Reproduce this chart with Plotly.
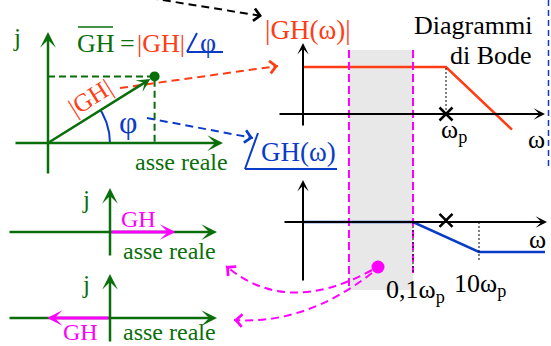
import numpy as np
import plotly.graph_objects as go

W, H = 551, 346
SERIF = "Liberation Serif"
GREEN = "#0a6e0a"
RED = "#ff3c14"
BLUE = "#0a3cc8"
MAGENTA = "#ff00ff"
BLACK = "#000000"
BAND = "#e8e8e8"

# Phasor GH = |GH| ∠φ
gh_mag = 1.0
gh_phase_deg = 32.0
# low-frequency phasors lying on the real axis (phase 0 and 180°)
gh_real_mag = [0.52, 0.50]
gh_real_phase = [0.0, 180.0]

# Asymptotic Bode diagrams, abscissa = log10(ω/ω_p)
mag_logw = [-4.33, 0.0, 2.0]
mag_db = [30.0, 30.0, -10.0]
phase_logw = [-4.33, -1.0, 1.0, 3.0]
phase_deg = [0.0, 0.0, -90.0, -90.0]
pole_logw = [0.0]
band_logw = [-2.94, -1.0]      # shaded low-frequency range
decade_logw = [-1.0, 1.0]      # 0,1ω_p and 10ω_p

# Each panel gets its own overlaid axis pair: (origin px x, origin px y, px per unit x, px per unit y)
PH = 125.7
frames = {
    "2": (48, 143, PH, PH),       # phasor GH
    "3": (110, 232, PH, PH),      # phasor on positive real axis
    "4": (110, 318, PH, PH),      # phasor on negative real axis
    "5": (446, 114, 33.0, 1.567), # |GH(ω)| in dB
    "6": (446, 222, 33.0, 1 / 3), # ∠GH(ω) in degrees
}

fig = go.Figure()
layout = dict(
    width=W, height=H, margin=dict(l=0, r=0, t=0, b=0),
    paper_bgcolor="white", plot_bgcolor="white", showlegend=False,
    xaxis=dict(range=[0, W], visible=False, fixedrange=True),
    yaxis=dict(range=[H, 0], visible=False, fixedrange=True),
)
for k, (x0, y0, sx, sy) in frames.items():
    layout[f"xaxis{k}"] = dict(range=[-x0 / sx, (W - x0) / sx], overlaying="x",
                               anchor=f"y{k}", visible=False, fixedrange=True)
    layout[f"yaxis{k}"] = dict(range=[-(H - y0) / sy, y0 / sy], overlaying="y",
                               anchor=f"x{k}", visible=False, fixedrange=True)
fig.update_layout(**layout)


def arrow(x0, y0, x1, y1, color, width=2.5, head=3, size=1.0, ref="", standoff=0):
    fig.add_annotation(x=x1, y=y1, ax=x0, ay=y0, xref="x" + ref, yref="y" + ref,
                       axref="x" + ref, ayref="y" + ref, text="", showarrow=True,
                       arrowhead=head, arrowsize=size, arrowwidth=width,
                       arrowcolor=color, standoff=standoff)


def seg(x0, y0, x1, y1, color, width=2, dash="solid", xref="x", yref="y", layer="above"):
    fig.add_shape(type="line", x0=x0, y0=y0, x1=x1, y1=y1, xref=xref, yref=yref,
                  line=dict(color=color, width=width, dash=dash), layer=layer)


def label(x, y, text, color, size=26, angle=0, xanchor="center", yanchor="middle", pad=1):
    fig.add_annotation(x=x, y=y, xref="x", yref="y", text=text, showarrow=False,
                       font=dict(family=SERIF, size=size, color=color),
                       textangle=angle, xanchor=xanchor, yanchor=yanchor, borderpad=pad)


def dashed_arrow(pts, color, dash="8px,5px", width=2):
    """Dashed straight connector ending in an open arrowhead."""
    (x0, y0), (x1, y1) = pts
    seg(x0, y0, x1, y1, color, width, dash)
    d = np.hypot(x1 - x0, y1 - y0)
    tx, ty = x1 - (x1 - x0) / d * 6, y1 - (y1 - y0) / d * 6
    arrow(tx, ty, x1, y1, color, width=width, head=4, size=1.2)


def dashed_curve(p0, c, p2, color, dash="8px,5px", width=2):
    """Dashed quadratic connector ending in an open arrowhead."""
    fig.add_shape(type="path", xref="x", yref="y",
                  path=f"M {p0[0]},{p0[1]} Q {c[0]},{c[1]} {p2[0]},{p2[1]}",
                  line=dict(color=color, width=width, dash=dash))
    vx, vy = c[0] - p2[0], c[1] - p2[1]
    d = np.hypot(vx, vy)
    arrow(p2[0] + vx / d * 6, p2[1] + vy / d * 6, p2[0], p2[1], color,
          width=width, head=4, size=1.2)


# ---------------- shaded low-frequency band ----------------
fig.add_shape(type="rect", xref="x5", yref="y", x0=band_logw[0], x1=band_logw[1],
              y0=50, y1=290, fillcolor=BAND, line=dict(width=0), layer="below")
seg(band_logw[0], 50, band_logw[0], 289, MAGENTA, 2, "8px,4px", xref="x5")
seg(band_logw[1], 50, band_logw[1], 273, MAGENTA, 2, "8px,4px", xref="x5")

# ---------------- phasor GH ----------------
phi = np.radians(gh_phase_deg)
gx, gy = gh_mag * np.cos(phi), gh_mag * np.sin(phi)
fig.add_trace(go.Scatter(x=[0, gx, gx], y=[gy, gy, 0], xaxis="x2", yaxis="y2",
                         mode="lines", line=dict(color=GREEN, width=2, dash="7px,4px"),
                         hoverinfo="skip"))
t = np.linspace(0, phi, 40)
fig.add_trace(go.Scatter(x=0.493 * np.cos(t), y=0.493 * np.sin(t), xaxis="x2", yaxis="y2",
                         mode="lines", line=dict(color=BLUE, width=2), hoverinfo="skip"))
arrow(48, 175, 48, 32, GREEN, 2.5, 3, 1.05)
arrow(14, 143, 223, 143, GREEN, 2.5, 3, 1.05)
arrow(0, 0, gx, gy, GREEN, 2.5, 3, 0.9, ref="2", standoff=5)
fig.add_trace(go.Scatter(x=[gx], y=[gy], xaxis="x2", yaxis="y2", mode="markers",
                         marker=dict(color=GREEN, size=10), hoverinfo="skip"))

label(17, 37, "j", GREEN, size=25)
label(95.5, 43, "GH", GREEN)
seg(78, 27, 113, 27, GREEN, 1.5)
label(127, 43, "=", GREEN)
label(161, 43, "|GH|", RED)
seg(187, 52, 197, 33, BLUE, 2)
seg(187, 52, 223, 52, BLUE, 2)
label(208, 42, "φ", BLUE, size=28)
label(90, 97, "|GH|", RED, size=25, angle=-32)
label(128, 122, "φ", BLUE, size=32)
label(181, 162, "asse reale", GREEN, size=24)

# ---------------- phasors on the real axis ----------------
for k, (oy, m, p) in zip(["3", "4"], zip([232, 318], gh_real_mag, gh_real_phase)):
    arrow(110, oy + 25, 110, oy - 44, GREEN, 2.5, 3, 1.05)
    arrow(8, oy, 217, oy, GREEN, 2.5, 3, 1.05)
    a = np.radians(p)
    arrow(0, 0, m * np.cos(a), m * np.sin(a), MAGENTA, 3, 3, 0.85, ref=k)
label(86, 199, "j", GREEN, size=25)
label(138, 219, "GH", MAGENTA, size=24)
label(169, 251, "asse reale", GREEN, size=24)
label(86, 284, "j", GREEN, size=25)
label(80, 346, "GH", MAGENTA, size=24, yanchor="bottom", pad=0)
label(169, 346, "asse reale", GREEN, size=24, yanchor="bottom", pad=0)

# ---------------- Bode magnitude ----------------
arrow(303, 127, 303, 43, BLACK, 2, 3, 0.95)
arrow(278, 114, 545, 114, BLACK, 2, 3, 0.95)
seg(pole_logw[0], 0, pole_logw[0], mag_db[0], BLACK, 1, "2px,2px", xref="x5", yref="y5")
fig.add_trace(go.Scatter(x=mag_logw, y=mag_db, xaxis="x5", yaxis="y5", mode="lines",
                         line=dict(color=RED, width=2.5), hoverinfo="skip"))
fig.add_trace(go.Scatter(x=pole_logw, y=[0], xaxis="x5", yaxis="y5", mode="markers",
                         marker=dict(symbol="x-thin", size=13, line=dict(width=2.5, color=BLACK)),
                         hoverinfo="skip"))
label(308, 30, "|GH(ω)|", RED, size=27)
label(533, 41, "Diagrammi", BLACK, xanchor="right", yanchor="bottom", pad=0)
label(533, 40, "di Bode", BLACK, xanchor="right", yanchor="top", pad=0)
label(439, 131, "ω<sub>p</sub>", BLACK, xanchor="left")
label(536, 139, "ω", BLACK)

# ---------------- Bode phase ----------------
arrow(303, 282, 303, 180, BLACK, 2, 3, 0.95)
arrow(283, 222, 547, 222, BLACK, 2, 3, 0.95)
seg(decade_logw[0], 222, decade_logw[0], 273, BLACK, 1, "2px,2px", xref="x6")
seg(decade_logw[1], 222, decade_logw[1], 262, BLACK, 1, "2px,2px", xref="x6")
fig.add_trace(go.Scatter(x=phase_logw, y=phase_deg, xaxis="x6", yaxis="y6", mode="lines",
                         line=dict(color=BLUE, width=2.5), hoverinfo="skip"))
fig.add_trace(go.Scatter(x=pole_logw, y=[5], xaxis="x6", yaxis="y6", mode="markers",
                         marker=dict(symbol="x-thin", size=13, line=dict(width=2.5, color=BLACK)),
                         hoverinfo="skip"))
label(298, 152, "GH(ω)", BLUE, size=27)
seg(245, 169, 258, 133, BLUE, 2)
seg(245, 169, 337, 169, BLUE, 2)
label(537, 239, "ω", BLACK)
label(384, 291, "0,1ω<sub>p</sub>", BLACK, xanchor="left")
label(452, 285, "10ω<sub>p</sub>", BLACK, xanchor="left")

# ---------------- connectors ----------------
seg(548.5, 0, 548.5, 170, BLUE, 1.5, "6px,4px")
dashed_arrow([(150, -2), (262, 16)], BLACK)
dashed_arrow([(120, 88), (278, 66)], RED)
dashed_arrow([(147, 118), (253, 138)], BLUE)
dashed_curve((372, 270), (286, 317), (226, 266), MAGENTA)
dashed_curve((372, 273), (305, 325), (234, 320), MAGENTA)
fig.add_trace(go.Scatter(x=[378], y=[267], mode="markers",
                         marker=dict(color=MAGENTA, size=13), hoverinfo="skip"))

fig.write_html("out.html")
